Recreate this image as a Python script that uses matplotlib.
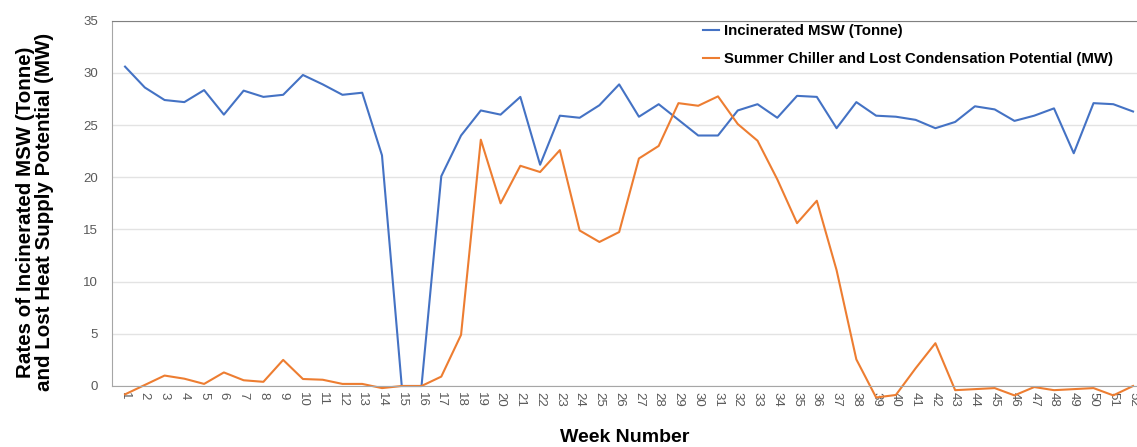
import matplotlib
matplotlib.use("Agg")
import matplotlib.pyplot as plt

plt.rcParams["font.family"] = ["Liberation Sans", "DejaVu Sans"]

weeks = list(range(1, 53))

# Incinerated MSW (Tonne)
msw = [30.6, 28.6, 27.4, 27.2, 28.35, 26.0, 28.3, 27.7, 27.9, 29.8,
       28.9, 27.9, 28.1, 22.1, 0.0, 0.0, 20.1, 24.0, 26.4, 26.0,
       27.7, 21.2, 25.9, 25.7, 26.9, 28.9, 25.8, 27.0, 25.5, 24.0,
       24.0, 26.4, 27.0, 25.7, 27.8, 27.7, 24.7, 27.2, 25.9, 25.8,
       25.5, 24.7, 25.3, 26.8, 26.5, 25.4, 25.9, 26.6, 22.3, 27.1,
       27.0, 26.3]

# Summer Chiller and Lost Condensation Potential (MW)
chiller = [-0.8, 0.1, 1.0, 0.7, 0.2, 1.3, 0.55, 0.4, 2.5, 0.67,
           0.6, 0.2, 0.2, -0.2, 0.0, 0.0, 0.9, 4.9, 23.6, 17.5,
           21.1, 20.5, 22.6, 14.9, 13.8, 14.75, 21.8, 23.0, 27.1, 26.85,
           27.75, 25.1, 23.5, 19.8, 15.6, 17.75, 11.1, 2.55, -1.1, -0.86,
           1.7, 4.1, -0.4, -0.3, -0.2, -0.9, -0.1, -0.4, -0.3, -0.2,
           -0.9, 0.0]

labels = ["Incinerated MSW (Tonne)",
          "Summer Chiller and Lost Condensation Potential (MW)"]

fig = plt.figure(figsize=(11.37, 4.47), dpi=100)
ax = fig.add_axes([112 / 1137, 61 / 447, 1025 / 1137, 365.3 / 447])

ax.plot(weeks, msw, color="#4472C4", lw=1.5, label=labels[0], clip_on=False)
ax.plot(weeks, chiller, color="#ED7D31", lw=1.5, label=labels[1], clip_on=False)

ax.set_xlim(0.34, 52.2)
ax.set_ylim(0, 35)
ax.set_yticks(range(0, 36, 5))
ax.set_xticks(weeks)
ax.set_xticklabels([str(w) for w in weeks], rotation=-90, va="top")
ax.tick_params(axis="both", length=0, colors="#595959", labelsize=9.5)
ax.tick_params(axis="x", pad=4)
ax.tick_params(axis="y", pad=10)
ax.grid(axis="y", color="#e3e3e3", lw=1)
ax.set_axisbelow(True)

for side in ["left", "bottom"]:
    ax.spines[side].set_color("#a6a6a6")
ax.spines["top"].set_color("#808080")
ax.spines["right"].set_visible(False)

ax.set_ylabel("Rates of Incinerated MSW (Tonne)\nand Lost Heat Supply Potential (MW)",
              fontsize=14.8, fontweight="bold", linespacing=1.0)
ax.yaxis.set_label_coords(-0.057, 0.476)
ax.set_xlabel("Week Number", fontsize=14, fontweight="bold", labelpad=16)

ax.legend(loc="upper left", bbox_to_anchor=(703 / 1137, 1 - 24 / 447),
          bbox_transform=fig.transFigure, frameon=False, borderpad=0,
          borderaxespad=0, handlelength=1.1, handletextpad=0.33,
          labelspacing=0.95, prop={"weight": "bold", "size": 10.8})

fig.savefig("out.png", dpi=100)
